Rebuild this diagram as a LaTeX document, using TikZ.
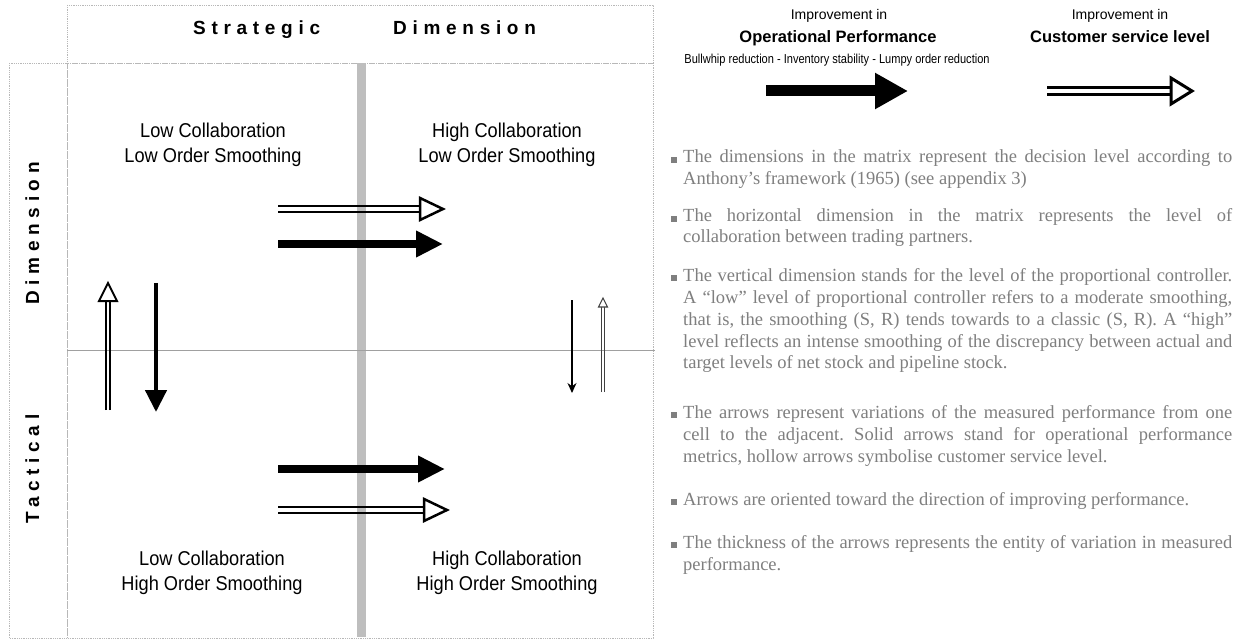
\documentclass[tikz,border=0pt]{standalone}
\usepackage{fontspec}
\setmainfont{Liberation Serif}
\newfontfamily\arialfont{Liberation Sans}
\newfontfamily\narrowfont[FakeStretch=0.91]{Liberation Sans}
\newfontfamily\condfont[FakeStretch=0.85]{Liberation Sans}
\newfontfamily\spacedfont[LetterSpace=30]{Liberation Sans Bold}
\usetikzlibrary{arrows.meta,calc}
\definecolor{txtgray}{HTML}{7F7F7F}
\definecolor{framegray}{HTML}{B8B8B8}
\definecolor{bargray}{HTML}{BEBEBE}
\definecolor{linegray}{HTML}{A0A0A0}
% hollow (double) arrow: [colour]{from}{to}{stroke}{offset}{head length}{head half width}
\newcommand\hollowarr[7][black]{%
  \coordinate (hb) at ($(#3)!#6!(#2)$);
  \draw[#1, line width=#4] ($(#2)!#5!90:(hb)$) -- ($(hb)!#5!-90:(#2)$);
  \draw[#1, line width=#4] ($(#2)!#5!-90:(hb)$) -- ($(hb)!#5!90:(#2)$);
  \draw[#1, line width=#4, fill=white, line join=miter]
    ($(hb)!#7!90:(#3)$) -- (#3) -- ($(hb)!#7!-90:(#3)$) -- cycle;
}
\frenchspacing
\begin{document}
\begin{tikzpicture}[x=1pt,y=-1pt,
  frame/.style={draw=framegray, densely dotted, line width=0.8pt},
  cell/.style={align=center, inner sep=0, font=\narrowfont\fontsize{20}{25}\selectfont},
  hdr/.style={inner sep=0, anchor=base west, font=\spacedfont\fontsize{19}{22}\selectfont},
  legsmall/.style={inner sep=0, anchor=base, font=\arialfont\fontsize{14}{16}\selectfont},
  legbig/.style={inner sep=0, anchor=base, font=\arialfont\bfseries\fontsize{16.5}{19}\selectfont},
  legcond/.style={inner sep=0, anchor=base, font=\condfont\fontsize{13}{15}\selectfont},
  txt/.style={inner sep=0, anchor=base west, text=txtgray, font=\fontsize{18.5}{21.7}\selectfont},
  bullet/.style={fill=txtgray, minimum size=5.5pt, inner sep=0, draw=none},
  bigsolid/.style={line width=8pt, -{Triangle[length=27pt,width=25pt]}},
  legsolid/.style={line width=11pt, -{Triangle[length=33pt,width=34pt]}},
  vsolid/.style={line width=4.5pt, -{Triangle[length=22pt,width=21pt]}},
  thinsolid/.style={line width=1.2pt, -{Stealth[length=10pt,width=9pt]}}
]
\useasboundingbox (0,0) rectangle (1255,644);
\fill[white] (0,0) rectangle (1255,644);

% frames
\draw[frame] (67,5) rectangle (653,63);
\draw[frame] (9,63) rectangle (67,638);
\draw[frame] (67,63) rectangle (653,638);

% collaboration bar and mid line
\fill[bargray] (357,63) rectangle (366,637);
\draw[linegray, line width=0.9pt] (67,350) -- (655,350);

% headers
\node[hdr] (hs) at (193,35) {Strategic};
\node[hdr] (hd) at (393,35) {Dimension};
\node[hdr, rotate=90] (vt) at (39,524) {Tactical};
\node[hdr, rotate=90] (vd) at (39,305) {Dimension};

% cell labels
\node[cell] (c11) at (213,144.5) {Low Collaboration\\Low Order Smoothing};
\node[cell] (c12) at (507,144.5) {High Collaboration\\Low Order Smoothing};
\node[cell] (c21) at (212,572.5) {Low Collaboration\\High Order Smoothing};
\node[cell] (c22) at (507,572.5) {High Collaboration\\High Order Smoothing};

% arrow end points
\coordinate (a1s) at (278,209); \coordinate (a1e) at (443,209);
\coordinate (a2s) at (278,244); \coordinate (a2e) at (443,244);
\coordinate (a3s) at (278,469); \coordinate (a3e) at (445,469);
\coordinate (a4s) at (278,510); \coordinate (a4e) at (447,510);
\coordinate (a5s) at (108,410); \coordinate (a5e) at (108,283);
\coordinate (a6s) at (156,283); \coordinate (a6e) at (156,412);
\coordinate (a7s) at (572,300); \coordinate (a7e) at (572,393);
\coordinate (a8s) at (603,392); \coordinate (a8e) at (603,298);
\coordinate (l1s) at (766,91);  \coordinate (l1e) at (908,91);
\coordinate (l2s) at (1047,91); \coordinate (l2e) at (1192,91);

% matrix arrows
\hollowarr{a1s}{a1e}{2.5pt}{2.8pt}{23pt}{11pt}
\draw[bigsolid] (a2s) -- (a2e);
\draw[bigsolid] (a3s) -- (a3e);
\hollowarr{a4s}{a4e}{2.5pt}{2.8pt}{23pt}{11pt}
\hollowarr{a5s}{a5e}{2pt}{2.2pt}{18pt}{9pt}
\draw[vsolid] (a6s) -- (a6e);
\draw[thinsolid] (a7s) -- (a7e);
\hollowarr[black!75]{a8s}{a8e}{1.1pt}{1.4pt}{9pt}{4.5pt}

% legend
\node[legsmall] (li1) at (839,20) {Improvement in};
\node[legbig] (lop) at (838,43) {Operational Performance};
\node[legcond] (lbw) at (837,64) {Bullwhip reduction - Inventory stability - Lumpy order reduction};
\node[legsmall] (li2) at (1120,20) {Improvement in};
\node[legbig] (lcs) at (1120,43) {Customer service level};
\draw[legsolid] (l1s) -- (l1e);
\hollowarr{l2s}{l2e}{3pt}{3.5pt}{21pt}{13pt}

% notes
\node[bullet] (b1) at (674,160) {};
\node[txt] (t1) at (683,163) {\makebox[549pt][s]{The dimensions in the matrix represent the decision level according to}};
\node[txt] (t2) at (683,185) {Anthony’s framework (1965) (see appendix 3)};
\node[bullet] (b2) at (674,219) {};
\node[txt] (t3) at (683,222) {\makebox[549pt][s]{The horizontal dimension in the matrix represents the level of}};
\node[txt] (t4) at (683,243) {collaboration between trading partners.};
\node[bullet] (b3) at (674,278) {};
\node[txt] (t5) at (683,281) {\makebox[549pt][s]{The vertical dimension stands for the level of the proportional controller.}};
\node[txt] (t6) at (683,303) {\makebox[549pt][s]{A “low” level of proportional controller refers to a moderate smoothing,}};
\node[txt] (t7) at (683,325) {\makebox[549pt][s]{that is, the smoothing (S, R) tends towards to a classic (S, R). A “high”}};
\node[txt] (t8) at (683,347) {\makebox[549pt][s]{level reflects an intense smoothing of the discrepancy between actual and}};
\node[txt] (t9) at (683,368) {target levels of net stock and pipeline stock.};
\node[bullet] (b4) at (674,415) {};
\node[txt] (t10) at (683,418) {\makebox[549pt][s]{The arrows represent variations of the measured performance from one}};
\node[txt] (t11) at (683,440) {\makebox[549pt][s]{cell to the adjacent. Solid arrows stand for operational performance}};
\node[txt] (t12) at (683,462) {metrics, hollow arrows symbolise customer service level.};
\node[bullet] (b5) at (674,502) {};
\node[txt] (t13) at (683,505) {Arrows are oriented toward the direction of improving performance.};
\node[bullet] (b6) at (674,545) {};
\node[txt] (t14) at (683,548) {\makebox[549pt][s]{The thickness of the arrows represents the entity of variation in measured}};
\node[txt] (t15) at (683,570) {performance.};
\end{tikzpicture}
\end{document}
